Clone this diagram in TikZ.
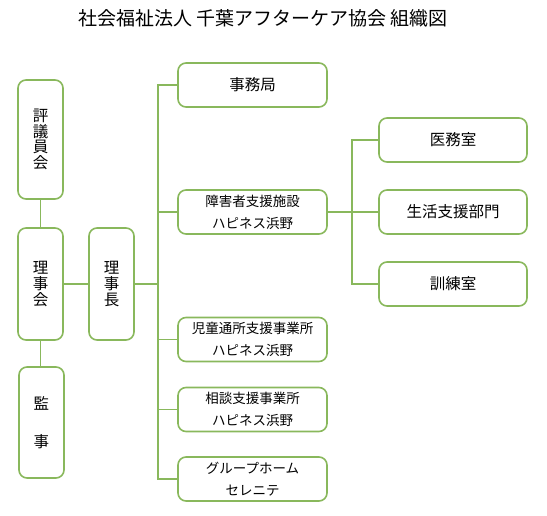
\documentclass[tikz,border=0pt]{standalone}
\usepackage{fontspec}
\setmainfont{Noto Sans CJK JP}
\definecolor{grn}{RGB}{137,184,92}
\begin{document}
\begin{tikzpicture}[x=1pt,y=-1pt,
  box/.style={draw=grn,line width=1.6pt,rounded corners=8pt,fill=white,inner sep=0pt,align=center,text=black},
  vbox/.style={box,minimum width=45pt},
  hbox/.style={box,minimum width=149pt,minimum height=44pt},
  big/.style={font=\fontsize{15.5}{16}\selectfont},
  two/.style={font=\fontsize{13.5}{22}\selectfont},
  conn/.style={draw=grn,line width=1.6pt}]
\useasboundingbox (0,0) rectangle (547,515);
\node[font=\fontsize{19}{20}\selectfont] (title) at (263,18) {社会福祉法人 千葉アフターケア協会 組織図};
% left column
\node[vbox,minimum height=119pt,font=\fontsize{15.5}{15.7}\selectfont] (hyogi) at (40.5,139.5) {評\\議\\員\\会};
\node[vbox,minimum height=112pt,font=\fontsize{15.5}{15.7}\selectfont] (rijikai) at (40.5,284) {理\\事\\会};
\node[vbox,minimum height=111pt,font=\fontsize{15.5}{38}\selectfont] (kanji) at (41.5,422.5) {監\\事};
\node[vbox,minimum height=112pt,font=\fontsize{15.5}{15.7}\selectfont] (rijicho) at (111.5,284) {理\\事\\長};
% middle column
\node[hbox,big] (jimu) at (252.5,85) {事務局};
\node[hbox,two] (shogai) at (252.5,212) {障害者支援施設\\ハピネス浜野};
\node[hbox,two] (jido) at (252.5,339.5) {児童通所支援事業所\\ハピネス浜野};
\node[hbox,two] (sodan) at (252.5,409.5) {相談支援事業所\\ハピネス浜野};
\node[hbox,two] (gh) at (252.5,479) {グループホーム\\セレニテ};
% right column
\node[box,minimum width=148pt,minimum height=44pt,big] (imu) at (453,140) {医務室};
\node[box,minimum width=148pt,minimum height=44pt,big] (seikatsu) at (453,212) {生活支援部門};
\node[box,minimum width=148pt,minimum height=44pt,big] (kunren) at (453,284) {訓練室};
% trunks
\coordinate (tk) at (158,0);
\coordinate (tk2) at (352,0);
% connectors
\draw[conn] (hyogi.south) -- (rijikai.north);
\draw[conn] (rijikai.south) -- (kanji.north -| rijikai.south);
\draw[conn] (rijikai.east) -- (rijicho.west);
\draw[conn] (rijicho.east) -- (rijicho.east -| tk);
\draw[conn] (jimu.west) -- (jimu.west -| tk) -- (gh.west -| tk) -- (gh.west);
\draw[conn] (shogai.west) -- (shogai.west -| tk);
\draw[conn] (jido.west) -- (jido.west -| tk);
\draw[conn] (sodan.west) -- (sodan.west -| tk);
\draw[conn] (imu.west) -- (imu.west -| tk2) -- (kunren.west -| tk2) -- (kunren.west);
\draw[conn] (shogai.east) -- (seikatsu.west);
\end{tikzpicture}
\end{document}
